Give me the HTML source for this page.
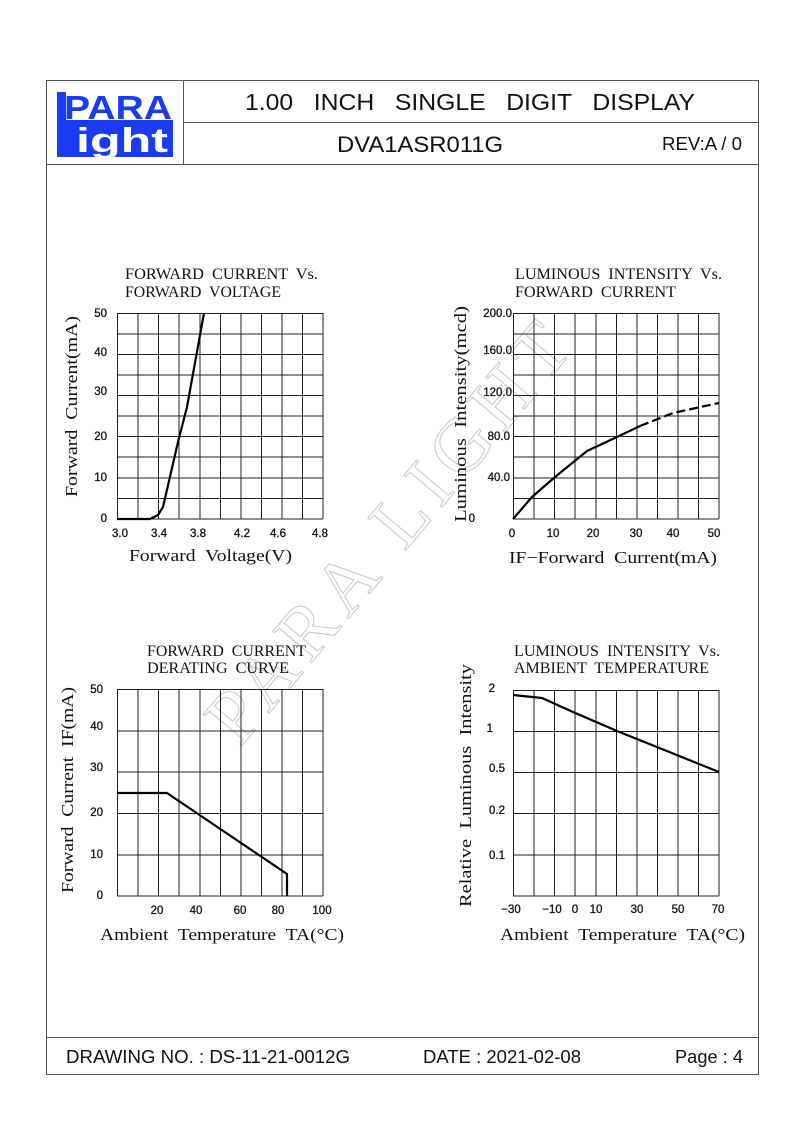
<!DOCTYPE html>
<html><head><meta charset="utf-8"><style>
html,body{margin:0;padding:0;background:#fff}
svg{display:block}
.s{font-family:"Liberation Sans",sans-serif}
.r{font-family:"Liberation Serif",serif}
.t{font-family:"Liberation Sans",sans-serif;font-size:11.5px}
</style></head><body>
<svg width="794" height="1123" viewBox="0 0 794 1123" xmlns="http://www.w3.org/2000/svg">
<rect x="46.5" y="80.5" width="712" height="994" fill="none" stroke="#555" stroke-width="1"/>
<line x1="183.5" y1="80" x2="183.5" y2="164" stroke="#555"/>
<line x1="183" y1="122.5" x2="758" y2="122.5" stroke="#555"/>
<line x1="46" y1="164.5" x2="758" y2="164.5" stroke="#555"/>
<line x1="46" y1="1037.5" x2="758" y2="1037.5" stroke="#555"/>
<!-- logo -->
<rect x="57" y="120" width="116" height="37" fill="#1a3cf0"/>
<rect x="57" y="92" width="9" height="30" fill="#1a3cf0"/>
<text x="64" y="119" class="s" font-size="33" font-weight="bold" fill="#1a3cf0" textLength="108" lengthAdjust="spacingAndGlyphs">PARA</text>
<text x="76" y="152" class="s" font-size="34" font-weight="bold" fill="#fff" textLength="92" lengthAdjust="spacingAndGlyphs">ight</text>
<!-- header -->
<g class="s" fill="#111">
<text x="245" y="110" font-size="23" textLength="450" lengthAdjust="spacingAndGlyphs" xml:space="preserve">1.00   INCH   SINGLE   DIGIT   DISPLAY</text>
<text x="337" y="152" font-size="22" textLength="166" lengthAdjust="spacingAndGlyphs">DVA1ASR011G</text>
<text x="662" y="150" font-size="18" textLength="80" lengthAdjust="spacingAndGlyphs">REV:A / 0</text>
<text x="66" y="1063" font-size="18" textLength="284" lengthAdjust="spacingAndGlyphs">DRAWING NO. : DS-11-21-0012G</text>
<text x="423" y="1063" font-size="18" textLength="158" lengthAdjust="spacingAndGlyphs">DATE : 2021-02-08</text>
<text x="675" y="1063" font-size="18" textLength="68" lengthAdjust="spacingAndGlyphs">Page : 4</text>
</g>

<!-- watermark -->
<text x="0" y="0" transform="translate(240,748) rotate(-50)" class="r" font-size="76" fill="none" stroke="#c8c8c8" stroke-width="1" textLength="520" lengthAdjust="spacing">PARA LIGHT</text>

<g stroke="#222" stroke-width="1" fill="none">
<path d="M117.5 313v206M138 313v206M158.5 313v206M179 313v206M200 313v206M220.5 313v206M241 313v206M261.5 313v206M282 313v206M302.5 313v206M323 313v206M117 313.5h206M117 334h206M117 354.5h206M117 375h206M117 395.5h206M117 416h206M117 436.5h206M117 457h206M117 478h206M117 498.5h206M117 519h206"/>
<path d="M513.5 313v206M534 313v206M554.5 313v206M575 313v206M596 313v206M616.5 313v206M637 313v206M657.5 313v206M678 313v206M698.5 313v206M719 313v206M513 313.5h206M513 334h206M513 354.5h206M513 375h206M513 395.5h206M513 416h206M513 436.5h206M513 457h206M513 478h206M513 498.5h206M513 519h206"/>
<path d="M117.5 689v207M138 689v207M158.5 689v207M179 689v207M200 689v207M220.5 689v207M241 689v207M261.5 689v207M282 689v207M302.5 689v207M323 689v207M117 689.5h206M117 731h206M117 772h206M117 813.5h206M117 855h206M117 896h206"/>
<path d="M513.5 690v206M534 690v206M554.5 690v206M575 690v206M596 690v206M616.5 690v206M637 690v206M657.5 690v206M678 690v206M698.5 690v206M719 690v206M513 690.5h206M513 731.5h206M513 772.5h206M513 813.5h206M513 855h206M513 896h206"/>
</g>
<g stroke="#000" stroke-width="2.2" fill="none" stroke-linejoin="round">
<path d="M117 519L150 519L158 515L163 507L178 442L187 407L204 313"/>
<path d="M513 519L532 497L555 477L587 451L617 437L640 426"/>
<path d="M640 426L673 413L719 403" stroke-dasharray="9,4"/>
<path d="M117 793L167 793L287 874L287 896"/>
<path d="M513 695L542 698L573 712L617 731L719 772"/>
</g>

<g class="r" font-size="16" fill="#111">
<text x="125" y="279" textLength="193" lengthAdjust="spacingAndGlyphs" xml:space="preserve">FORWARD  CURRENT  Vs.</text>
<text x="125" y="297" textLength="156" lengthAdjust="spacingAndGlyphs" xml:space="preserve">FORWARD  VOLTAGE</text>
<text x="129" y="561" font-size="17" textLength="163" lengthAdjust="spacingAndGlyphs" xml:space="preserve">Forward  Voltage(V)</text>
<text transform="translate(77,497) rotate(-90)" font-size="17" textLength="181" lengthAdjust="spacingAndGlyphs" xml:space="preserve">Forward  Current(mA)</text>

<text x="515" y="279" textLength="207" lengthAdjust="spacingAndGlyphs" xml:space="preserve">LUMINOUS  INTENSITY  Vs.</text>
<text x="515" y="297" textLength="161" lengthAdjust="spacingAndGlyphs" xml:space="preserve">FORWARD  CURRENT</text>
<text x="509" y="563" font-size="17" textLength="208" lengthAdjust="spacingAndGlyphs" xml:space="preserve">IF−Forward  Current(mA)</text>
<text transform="translate(466,522) rotate(-90)" font-size="17" textLength="216" lengthAdjust="spacingAndGlyphs" xml:space="preserve">Luminous  Intensity(mcd)</text>

<text x="147" y="656" textLength="159" lengthAdjust="spacingAndGlyphs" xml:space="preserve">FORWARD  CURRENT</text>
<text x="147" y="673" textLength="142" lengthAdjust="spacingAndGlyphs" xml:space="preserve">DERATING  CURVE</text>
<text x="100" y="940" font-size="17" textLength="244" lengthAdjust="spacingAndGlyphs" xml:space="preserve">Ambient  Temperature  TA(°C)</text>
<text transform="translate(73,893) rotate(-90)" font-size="17" textLength="206" lengthAdjust="spacingAndGlyphs" xml:space="preserve">Forward  Current  IF(mA)</text>

<text x="514" y="656" textLength="206" lengthAdjust="spacingAndGlyphs" xml:space="preserve">LUMINOUS  INTENSITY  Vs.</text>
<text x="514" y="673" textLength="195" lengthAdjust="spacingAndGlyphs" xml:space="preserve">AMBIENT  TEMPERATURE</text>
<text x="500" y="940" font-size="17" textLength="245" lengthAdjust="spacingAndGlyphs" xml:space="preserve">Ambient  Temperature  TA(°C)</text>
<text transform="translate(471,907) rotate(-90)" font-size="17" textLength="243" lengthAdjust="spacingAndGlyphs" xml:space="preserve">Relative  Luminous  Intensity</text>
</g>

<g class="t" fill="#111" stroke="#111" stroke-width="0.3">
<g text-anchor="end">
<text x="107" y="317">50</text><text x="107" y="356">40</text><text x="107" y="395">30</text><text x="107" y="440">20</text><text x="107" y="481">10</text><text x="107" y="522">0</text>
<text x="512" y="317">200.0</text><text x="512" y="354">160.0</text><text x="512" y="396">120.0</text><text x="510" y="440">80.0</text><text x="510" y="481">40.0</text><text x="475" y="522">0</text>
<text x="103" y="693">50</text><text x="103" y="730">40</text><text x="103" y="771">30</text><text x="103" y="816">20</text><text x="103" y="858">10</text><text x="103" y="899">0</text>
<text x="495" y="692">2</text><text x="493" y="732">1</text><text x="505" y="772">0.5</text><text x="505" y="814">0.2</text><text x="505" y="859">0.1</text>
</g>
<g text-anchor="middle">
<text x="120" y="537">3.0</text><text x="159" y="537">3.4</text><text x="198" y="537">3.8</text><text x="242" y="537">4.2</text><text x="278" y="537">4.6</text><text x="320" y="537">4.8</text>
<text x="512" y="537">0</text><text x="553" y="537">10</text><text x="593" y="537">20</text><text x="636" y="537">30</text><text x="673" y="537">40</text><text x="714" y="537">50</text>
<text x="157" y="914">20</text><text x="196" y="914">40</text><text x="240" y="914">60</text><text x="278" y="914">80</text><text x="322" y="914">100</text>
<text x="511" y="913">−30</text><text x="552" y="913">−10</text><text x="575" y="913">0</text><text x="596" y="913">10</text><text x="637" y="913">30</text><text x="678" y="913">50</text><text x="718" y="913">70</text>
</g>
</g>
</svg>
</body></html>
